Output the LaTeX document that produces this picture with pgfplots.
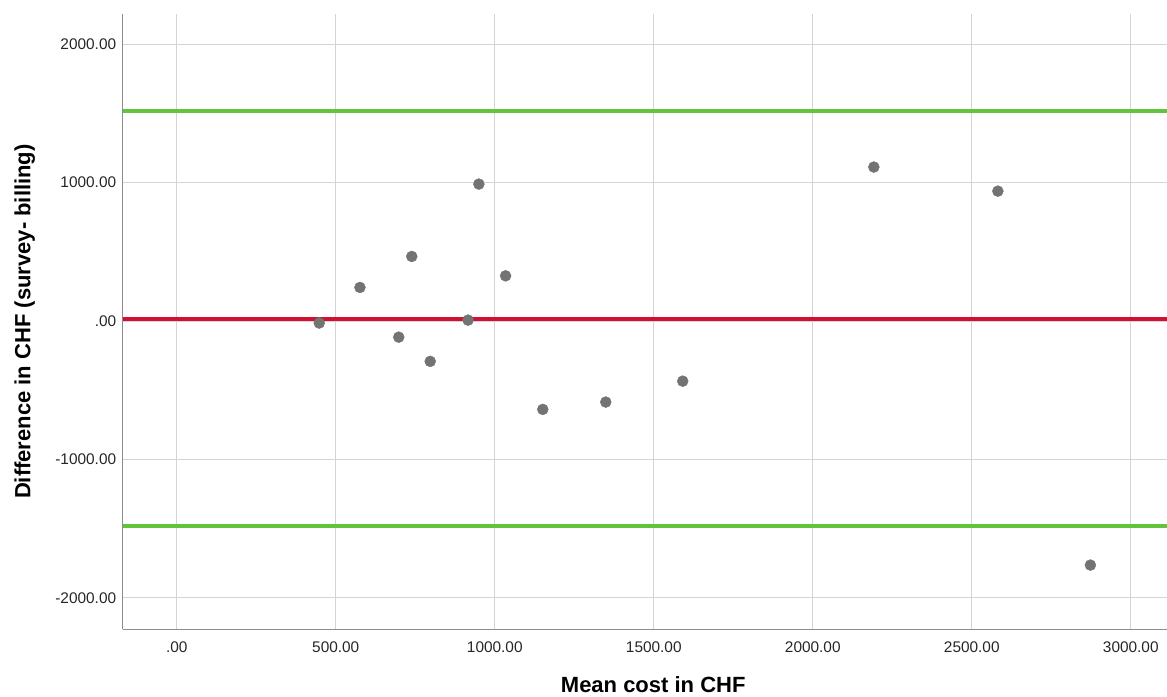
\documentclass[border=0pt]{standalone}
\usepackage{fontspec}
\setmainfont{Liberation Sans}
\usepackage{pgfplots}
\pgfplotsset{compat=1.18}
\definecolor{loagreen}{RGB}{98,195,60}
\definecolor{meanred}{RGB}{210,16,52}
\definecolor{ptgray}{RGB}{115,115,115}
\definecolor{axgray}{RGB}{140,140,140}
\definecolor{grdgray}{RGB}{212,212,212}
\begin{document}
\begin{tikzpicture}
\useasboundingbox (-122.7pt,-66.7pt) rectangle (1044.3pt,629.3pt);
\begin{axis}[
  at={(0pt,0pt)}, anchor=south west,
  scale only axis, width=1044.3pt, height=615.3pt,
  xmin=-170, xmax=3114, ymin=-2227, ymax=2219,
  axis x line*=bottom, axis y line*=left,
  axis line style={-, color=axgray, line width=1.5pt},
  xtick={0,500,1000,1500,2000,2500,3000},
  xticklabels={.00,500.00,1000.00,1500.00,2000.00,2500.00,3000.00},
  ytick={-2000,-1000,0,1000,2000},
  yticklabels={-2000.00,-1000.00,.00,1000.00,2000.00},
  major tick length=0pt,
  grid=major,
  major grid style={color=grdgray, line width=1.2pt},
  tick label style={font=\fontsize{15.4}{18}\selectfont, color=black!85},
  x tick label style={yshift=-9pt},
  y tick label style={xshift=-3pt},
  xlabel={Mean cost in CHF},
  ylabel={Difference in CHF (survey- billing)},
  label style={font=\fontsize{22}{26}\selectfont\bfseries},
  xlabel style={at={(axis description cs:0.508,0)}, anchor=center, yshift=-55pt},
  ylabel style={at={(axis description cs:0,0.5)}, anchor=center, yshift=98pt},
  clip=false,
]
\addplot[loagreen, line width=4.5pt] coordinates {(-170,1517) (3114,1517)};
\addplot[loagreen, line width=4.5pt] coordinates {(-170,-1481) (3114,-1481)};
\addplot[meanred, line width=4.5pt] coordinates {(-170,16) (3114,16)};
\addplot[only marks, mark=*, mark size=5.5pt, color=ptgray, mark options={fill=ptgray, draw=ptgray}] coordinates {
(448,-14)
(576,243)
(739,467)
(950,990)
(1034,327)
(916,7)
(698,-116)
(797,-291)
(1151,-638)
(1349,-585)
(1591,-434)
(2192,1113)
(2582,939)
(2873,-1763)
};
\end{axis}
\end{tikzpicture}
\end{document}
